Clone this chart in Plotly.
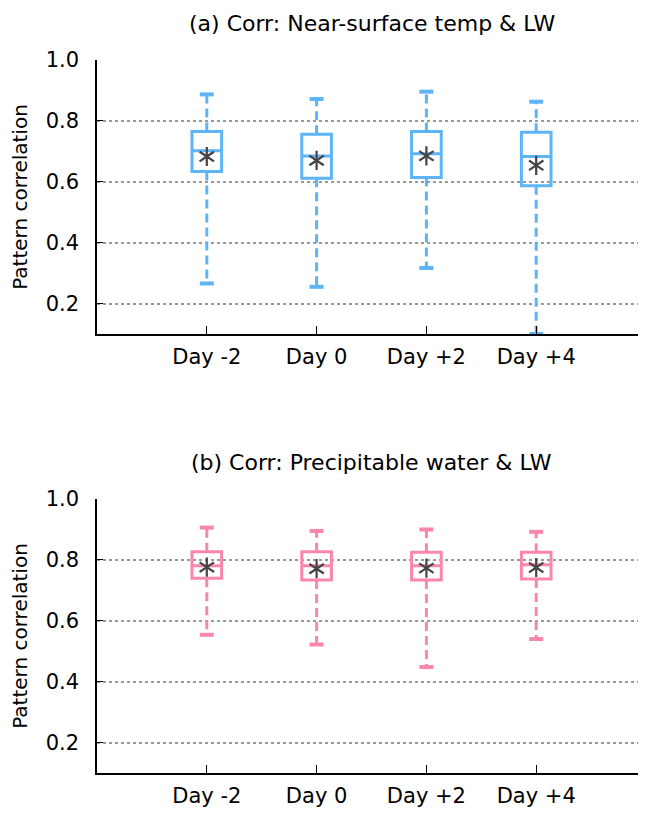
import plotly.graph_objects as go

days = ["Day -2", "Day 0", "Day +2", "Day +4"]
xpos = [0, 1, 2, 3]

# Panel (a): Near-surface temp & LW
a_lower = [0.266, 0.255, 0.317, 0.100]
a_q1 = [0.634, 0.612, 0.614, 0.587]
a_med = [0.702, 0.685, 0.692, 0.683]
a_q3 = [0.765, 0.756, 0.765, 0.763]
a_upper = [0.887, 0.872, 0.896, 0.863]
a_mean = [0.683, 0.670, 0.685, 0.654]

# Panel (b): Precipitable water & LW
b_lower = [0.554, 0.522, 0.448, 0.540]
b_q1 = [0.740, 0.734, 0.734, 0.737]
b_med = [0.781, 0.781, 0.781, 0.784]
b_q3 = [0.827, 0.827, 0.825, 0.825]
b_upper = [0.906, 0.895, 0.900, 0.892]
b_mean = [0.776, 0.771, 0.773, 0.775]

titles = ["(a) Corr: Near-surface temp & LW", "(b) Corr: Precipitable water & LW"]
colors = ["#5db4f6", "#fb86ad"]
star_color = "#444444"

fig = go.Figure()


def add_panel(lower, q1, med, q3, upper, mean, color, xa, ya):
    # dashed whiskers
    wx, wy = [], []
    for i, x in enumerate(xpos):
        wx += [x, x, None, x, x, None]
        wy += [q3[i], upper[i], None, q1[i], lower[i], None]
    fig.add_trace(go.Scatter(x=wx, y=wy, mode="lines", xaxis=xa, yaxis=ya,
                             line=dict(color=color, width=3, dash="9px,5px"),
                             showlegend=False, hoverinfo="skip"))
    # whisker caps
    fig.add_trace(go.Scatter(x=xpos + xpos, y=upper + lower, mode="markers",
                             xaxis=xa, yaxis=ya,
                             marker=dict(symbol="line-ew-open", size=10,
                                         color=color,
                                         line=dict(color=color, width=4)),
                             showlegend=False, hoverinfo="skip"))
    # boxes
    fig.add_trace(go.Box(x=xpos, q1=q1, median=med, q3=q3,
                         lowerfence=q1, upperfence=q3,
                         xaxis=xa, yaxis=ya, width=0.27, whiskerwidth=0,
                         fillcolor="rgba(255,255,255,0)",
                         line=dict(color=color, width=3),
                         showlegend=False, boxpoints=False))
    # mean stars (6-armed asterisk)
    for sym in ["y-up-open", "y-down-open"]:
        fig.add_trace(go.Scatter(x=xpos, y=mean, mode="markers",
                                 xaxis=xa, yaxis=ya,
                                 marker=dict(symbol=sym, size=12,
                                             color=star_color,
                                             line=dict(color=star_color, width=2.2)),
                                 showlegend=False, hoverinfo="skip"))


add_panel(a_lower, a_q1, a_med, a_q3, a_upper, a_mean, colors[0], "x", "y")
add_panel(b_lower, b_q1, b_med, b_q3, b_upper, b_mean, colors[1], "x2", "y2")

font_family = "DejaVu Sans, sans-serif"

xaxis_common = dict(range=[-1, 4], tickmode="array", tickvals=[0, 1, 2, 3, 4],
                    ticktext=days + [""], ticks="inside", ticklen=8,
                    tickcolor="black", showline=True, linecolor="black",
                    linewidth=1.5, showgrid=False, zeroline=False,
                    automargin=False, ticklabelstandoff=3,
                    tickfont=dict(size=21, color="black"))
yaxis_common = dict(range=[0.1, 1.0], tickmode="array",
                    tickvals=[0.2, 0.4, 0.6, 0.8, 1.0],
                    ticktext=["0.2", "0.4", "0.6", "0.8", "1.0"],
                    ticks="inside", ticklen=6, tickcolor="black",
                    showline=True, linecolor="black", linewidth=1.5,
                    showgrid=True, gridcolor="#999999", griddash="dot",
                    gridwidth=1.5, zeroline=False, automargin=False,
                    ticklabelstandoff=12,
                    tickfont=dict(size=21, color="black"),
                    title=dict(text="Pattern correlation",
                               font=dict(size=20, color="black"), standoff=15))

fig.update_layout(
    width=638, height=808,
    margin=dict(l=89, r=0, t=52, b=43),
    plot_bgcolor="white", paper_bgcolor="white",
    font=dict(family=font_family, color="black"),
    xaxis=dict(domain=[0, 1], anchor="y", **xaxis_common),
    yaxis=dict(domain=[0.6157, 1.0], anchor="x", **yaxis_common),
    xaxis2=dict(domain=[0, 1], anchor="y2", **xaxis_common),
    yaxis2=dict(domain=[0.0, 0.3843], anchor="x2", **yaxis_common),
    annotations=[
        dict(text=titles[0], x=0.5, y=1.0715, xref="paper", yref="paper",
             showarrow=False, font=dict(size=22, color="black"),
             xanchor="center", yanchor="top"),
        dict(text=titles[1], x=0.5, y=0.436, xref="paper", yref="paper",
             showarrow=False, font=dict(size=22, color="black"),
             xanchor="center", yanchor="middle"),
    ],
)

fig.write_html("out.html")
